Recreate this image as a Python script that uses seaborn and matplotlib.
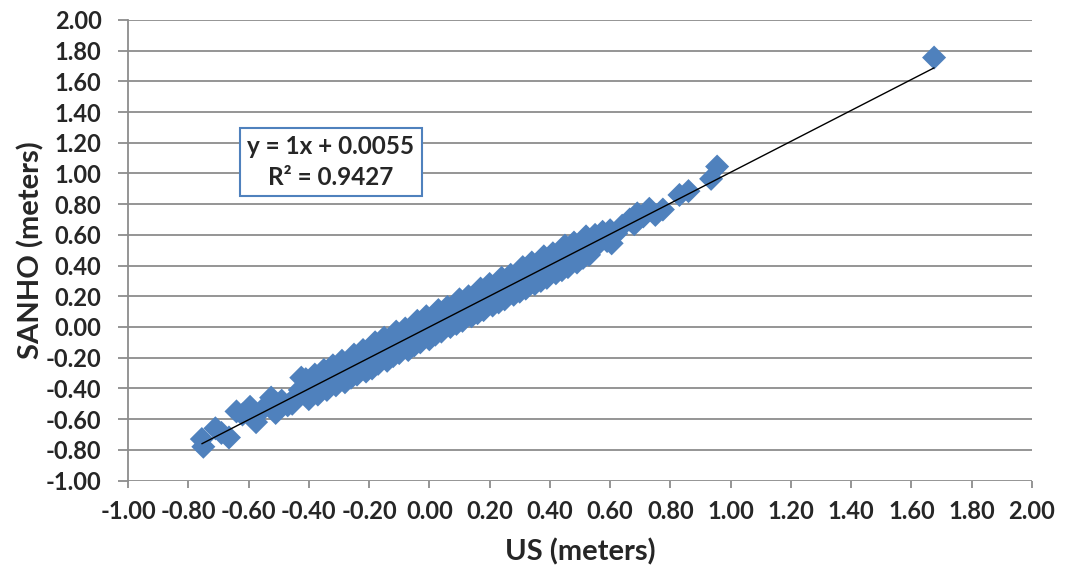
import numpy as np
import pandas as pd
import matplotlib
matplotlib.use("Agg")
import matplotlib.pyplot as plt
import seaborn as sns

# values (meters)
us_m = [
    # sparse lower-left tail
    -0.755, -0.75, -0.71, -0.69, -0.665, -0.64, -0.62, -0.595, -0.575, -0.55,
    -0.525, -0.51, -0.49, -0.47, -0.455, -0.44, -0.425, -0.43,
    # dense band
    -0.41, -0.40, -0.39, -0.38, -0.37, -0.36, -0.35, -0.34, -0.33, -0.32,
    -0.31, -0.30, -0.29, -0.28, -0.27, -0.26, -0.25, -0.24, -0.23, -0.22,
    -0.21, -0.20, -0.19, -0.18, -0.17, -0.16, -0.15, -0.14, -0.13, -0.12,
    -0.11, -0.10, -0.09, -0.08, -0.07, -0.06, -0.05, -0.04, -0.03, -0.02,
    -0.01, 0.00, 0.01, 0.02, 0.03, 0.04, 0.05, 0.06, 0.07, 0.08,
    0.09, 0.10, 0.11, 0.12, 0.13, 0.14, 0.15, 0.16, 0.17, 0.18,
    0.19, 0.20, 0.21, 0.22, 0.23, 0.24, 0.25, 0.26, 0.27, 0.28,
    0.29, 0.30, 0.31, 0.32, 0.33, 0.34, 0.35, 0.36, 0.37, 0.38,
    0.39, 0.40, 0.41, 0.42, 0.43, 0.44, 0.45, 0.46, 0.47, 0.48,
    0.49, 0.50, 0.51, 0.52, 0.53, 0.54,
    # sparse upper-right tail
    0.55, 0.56, 0.575, 0.59, 0.60, 0.605, 0.62, 0.64, 0.665, 0.68,
    0.69, 0.71, 0.73, 0.75, 0.775, 0.83, 0.86, 0.935, 0.955, 1.675,
]
sanho_m = [
    -0.73, -0.78, -0.66, -0.69, -0.72, -0.55, -0.57, -0.52, -0.62, -0.53,
    -0.46, -0.56, -0.48, -0.51, -0.50, -0.45, -0.33, -0.41,
    -0.34, -0.47, -0.38, -0.31, -0.44, -0.37, -0.28, -0.41, -0.34, -0.25,
    -0.38, -0.31, -0.22, -0.36, -0.26, -0.33, -0.18, -0.31, -0.23, -0.15,
    -0.29, -0.19, -0.27, -0.10, -0.24, -0.15, -0.07, -0.22, -0.12, -0.19,
    -0.03, -0.17, -0.08, -0.01, -0.15, -0.05, -0.12, 0.04, -0.10, -0.01,
    0.07, -0.08, 0.02, -0.05, 0.11, -0.03, 0.06, 0.13, 0.00, 0.09,
    0.02, 0.18, 0.04, 0.13, 0.20, 0.07, 0.16, 0.09, 0.25, 0.11,
    0.21, 0.28, 0.14, 0.23, 0.16, 0.32, 0.18, 0.27, 0.34, 0.21,
    0.30, 0.23, 0.39, 0.25, 0.35, 0.42, 0.28, 0.37, 0.30, 0.46,
    0.32, 0.41, 0.48, 0.35, 0.44, 0.37, 0.53, 0.39, 0.48, 0.55,
    0.42, 0.51, 0.45, 0.59, 0.47, 0.56,
    0.60, 0.54, 0.62, 0.56, 0.63, 0.545, 0.61, 0.66, 0.70, 0.67,
    0.74, 0.72, 0.77, 0.73, 0.765, 0.86, 0.885, 0.965, 1.045, 1.755,
]
equation = "y = 1x + 0.0055\nR\u00b2 = 0.9427"
ticks = [-1.0, -0.8, -0.6, -0.4, -0.2, 0.0, 0.2, 0.4, 0.6, 0.8, 1.0,
         1.2, 1.4, 1.6, 1.8, 2.0]

df = pd.DataFrame({"US": us_m, "SANHO": sanho_m})

sns.set_style("white")
plt.rcParams["font.family"] = ["Lato", "DejaVu Sans"]
plt.rcParams["font.weight"] = "bold"

fig = plt.figure(figsize=(10.73, 5.70), dpi=100)
ax = fig.add_axes([0.1193, 0.157, 0.8425, 0.808])

sns.scatterplot(x="US", y="SANHO", data=df, marker="D", s=150,
                color="#4F81BD", edgecolor="none", linewidth=0, ax=ax, zorder=3)
sns.regplot(x="US", y="SANHO", data=df, scatter=False, ci=None, ax=ax,
            line_kws={"color": "black", "lw": 1.0, "zorder": 4})

ax.set_xlim(-1, 2)
ax.set_ylim(-1, 2)
ax.set_xticks(ticks)
ax.set_yticks(ticks)
ax.set_xticklabels([f"{t:.2f}" for t in ticks])
ax.set_yticklabels([f"{t:.2f}" for t in ticks])
ax.yaxis.grid(True, color="#8c8c8c", lw=1.3)
ax.xaxis.grid(False)
ax.set_axisbelow(True)

for side in ["top", "right", "bottom"]:
    ax.spines[side].set_visible(False)
ax.spines["left"].set_color("#8c8c8c")
ax.spines["left"].set_linewidth(1.3)

ax.tick_params(axis="y", direction="out", length=7, width=1.3, color="#8c8c8c",
               pad=12, labelsize=17)
ax.tick_params(axis="x", direction="out", length=5, width=1.3, color="#8c8c8c",
               pad=9, labelsize=17)
ax.tick_params(bottom=True, left=True)

ax.set_xlabel("US (meters)", fontsize=21, fontweight="bold", labelpad=11)
ax.set_ylabel("SANHO (meters)", fontsize=21, fontweight="bold", labelpad=1)

ax.text(-0.327, 1.075, equation, ha="center", va="center", fontsize=17.5,
        fontweight="bold", linespacing=1.4, zorder=5,
        bbox=dict(boxstyle="square,pad=0.3", fc="white", ec="#4F81BD", lw=1.5))

fig.savefig("out.png", dpi=100)
